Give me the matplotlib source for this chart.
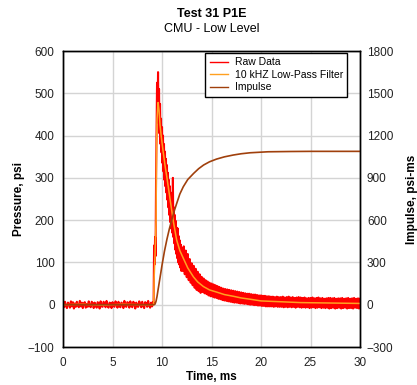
import numpy as np
import matplotlib
matplotlib.use("Agg")
import matplotlib.pyplot as plt

plt.rcParams['font.family'] = ['Liberation Sans', 'DejaVu Sans']

# ---------------- data ----------------
# Raw data, baseline segment: t = 0.0 .. 9.1 ms, step 0.1
raw_base = [
    4, -6, 7, -3, -8, 5, 2, -7, 8, -4,
    6, -9, 3, -5, 7, -2, -6, 9, -4, 5,
    -8, 3, 6, -7, 2, -5, 8, -3, -6, 7,
    4, -8, 5, -2, -7, 6, 3, -9, 8, -4,
    -5, 7, 2, -6, 9, -3, -7, 5, 4, -8,
    6, -2, -5, 8, 3, -7, 7, -4, -6, 5,
    2, -8, 9, -3, -5, 6, 4, -7, 8, -2,
    -6, 7, 3, -9, 5, -4, -5, 8, 2, -6,
    7, -3, -8, 6, 4, -5, 9, -2, -7, 5,
    -4, 6,
]
# Raw data, event segment: t = 9.15 .. 12.00 ms, step 0.05
raw_event = [
    3, 140, 95, 160, 115, 300, 420, 525, 450, 550,
    430, 510, 405, 475, 380, 440, 360, 420, 335, 400,
    315, 380, 295, 362, 280, 345, 265, 330, 248, 312,
    230, 295, 212, 280, 195, 265, 180, 250, 170, 300,
    160, 230, 145, 212, 130, 198, 120, 182, 110, 180,
    100, 162, 95, 152, 88, 142, 80, 135,
]
# Raw data, tail segment: t = 12.1 .. 30.0 ms, step 0.1
raw_tail = [
    80, 138, 72, 128, 65, 120, 58, 108, 52,
    98, 46, 92, 40, 85, 35, 78, 32, 72, 28,
    66, 30, 62, 27, 58, 25, 55, 22, 52, 20,
    50, 19, 48, 17, 46, 16, 44, 14, 42, 13,
    40, 11, 38, 10, 37, 9, 36, 8, 35, 7,
    34, 6, 33, 5, 32, 5, 31, 4, 30, 3,
    29, 3, 28, 2, 27, 2, 26, 1, 26, 0,
    25, 0, 24, -1, 24, -1, 23, -2, 22, -2,
    22, -3, 21, -3, 21, -4, 20, -4, 20, -4,
    19, -4, 19, -5, 18, -4, 19, -5, 18, -5,
    18, -5, 19, -6, 17, -5, 18, -6, 19, -5,
    17, -6, 18, -5, 16, -7, 17, -5, 18, -6,
    17, -7, 16, -6, 17, -7, 15, -6, 16, -8,
    16, -7, 17, -6, 15, -8, 16, -7, 17, -6,
    15, -8, 16, -7, 14, -8, 15, -7, 16, -9,
    16, -8, 15, -7, 16, -9, 14, -8, 15, -7,
    15, -9, 16, -8, 14, -7, 15, -9, 16, -8,
    14, -8, 15, -9, 16, -7, 14, -8, 15, -9,
    14,
]

filt_time = [0, 2, 4, 6, 8, 9.15, 9.2, 9.3, 9.4, 9.45, 9.5, 9.6, 9.7, 9.8,
             9.93, 10.1, 10.3, 10.5, 10.8, 11.14, 11.48, 11.8, 12.15, 12.6,
             13.17, 13.6, 14.18, 14.8, 15.5, 16.3, 17.2, 18.0, 18.9, 20.0,
             22.0, 24.0, 27.0, 30.0]
filt_psi = [0, 1, -1, 1, 0, 0, 60, 120, 200, 380, 440, 478, 460, 425,
            397, 365, 330, 300, 252, 198, 153, 128, 110, 87,
            66, 54, 43, 35, 30, 24, 20, 16, 13, 9,
            7, 5, 4, 3]

imp_time = [0, 9.2, 9.3, 9.4, 9.5, 9.6, 9.75, 9.9, 10.0, 10.25, 10.5, 10.75,
            11.0, 11.25, 11.5, 11.8, 12.15, 12.6, 13.2, 13.7, 14.2, 14.8,
            15.5, 16.3, 17.2, 18.0, 18.9, 20.7, 23.0, 25.0, 30.0]
imp_val = [0, 0, 5, 25, 60, 105, 170, 235, 280, 380, 465, 540,
           605, 668, 722, 785, 837, 888, 932, 965, 991, 1014,
           1033, 1049, 1062, 1071, 1078, 1085, 1087, 1088, 1088]

x_ticks = [0, 5, 10, 15, 20, 25, 30]
y_ticks = [-100, 0, 100, 200, 300, 400, 500, 600]
y2_ticks = [-300, 0, 300, 600, 900, 1200, 1500, 1800]

# sample times for raw segments
t_base = np.round(np.arange(len(raw_base)) * 0.1, 3)
t_event = np.round(9.15 + np.arange(len(raw_event)) * 0.05, 3)
t_tail = np.round(12.1 + np.arange(len(raw_tail)) * 0.1, 3)
raw_time = np.concatenate([t_base, t_event, t_tail])
raw_psi = np.concatenate([raw_base, raw_event, raw_tail])

# ---------------- figure ----------------
fig = plt.figure(figsize=(4.17, 3.85), dpi=100)
ax = fig.add_axes([63/417, 38/385, 297/417, 296/385])
ax2 = ax.twinx()

red = '#FF0000'
orange = '#FFA020'
brown = '#A0400C'

l1, = ax.plot(raw_time, raw_psi, color=red, lw=1.5, label='Raw Data')
l2, = ax.plot(filt_time, filt_psi, color=orange, lw=1.1, label='10 kHZ Low-Pass Filter')
l3, = ax2.plot(imp_time, imp_val, color=brown, lw=1.2, label='Impulse')

ax.set_xlim(0, 30)
ax.set_ylim(-100, 600)
ax2.set_ylim(-300, 1800)
ax.set_xticks(x_ticks)
ax.set_yticks(y_ticks)
ax2.set_yticks(y2_ticks)

ax.grid(True, color='#d4d4d4', lw=1.0)
ax.set_axisbelow(True)

for a in (ax, ax2):
    a.tick_params(length=0, labelsize=8.5, colors='#222222')
    for s in a.spines.values():
        s.set_linewidth(1.0)
        s.set_color('black')
ax.tick_params(axis='y', pad=6)
ax.tick_params(axis='x', pad=7)
ax2.tick_params(axis='y', pad=5)

ax.set_xlabel('Time, ms', fontsize=8.5, fontweight='bold', labelpad=2)
ax.set_ylabel('Pressure, psi', fontsize=8.5, fontweight='bold', labelpad=2)
ax2.set_ylabel('Impulse, psi-ms', fontsize=8.5, fontweight='bold', labelpad=9)

fig.text(0.5 * (63 + 360) / 417, 1 - 14/385, 'Test 31 P1E', ha='center', va='center',
         fontsize=9, fontweight='bold')
fig.text(0.5 * (63 + 360) / 417, 1 - 29/385, 'CMU - Low Level', ha='center', va='center',
         fontsize=9)

leg = ax2.legend(handles=[l1, l2, l3], loc='upper right',
                 bbox_to_anchor=((347 - 63) / 297, (347 - 53) / 296),
                 borderaxespad=0, fontsize=7.5, fancybox=False, framealpha=1,
                 edgecolor='black', handlelength=1.8, handletextpad=0.6,
                 labelspacing=0.25, borderpad=0.4)
leg.get_frame().set_linewidth(1.0)
for h in leg.legend_handles:
    h.set_linewidth(1.0)

fig.savefig('out.png', dpi=100)
